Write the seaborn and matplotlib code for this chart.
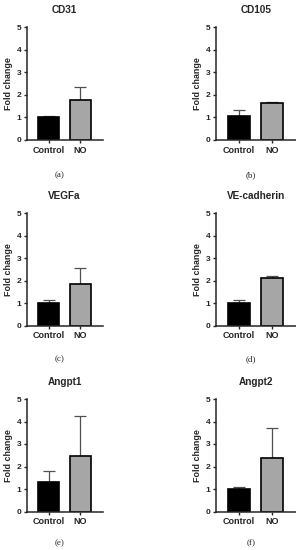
import matplotlib
matplotlib.use('Agg')
import matplotlib.pyplot as plt
import pandas as pd
import seaborn as sns

# Values (mean and upper SD)
genes = ['CD31', 'CD105', 'VEGFa', 'VE-cadherin', 'Angpt1', 'Angpt2']
panel_labels = ['(a)', '(b)', '(c)', '(d)', '(e)', '(f)']
groups = ['Control', 'NO']
control_mean = [1.00, 1.06, 1.01, 1.00, 1.29, 1.00]
control_sd = [0.07, 0.28, 0.14, 0.15, 0.53, 0.07]
no_mean = [1.78, 1.62, 1.85, 2.13, 2.45, 2.40]
no_sd = [0.59, 0.08, 0.72, 0.08, 1.78, 1.30]
y_ticks = [0, 1, 2, 3, 4, 5]

sns.set_style('ticks')
plt.rcParams['font.family'] = ['Liberation Sans', 'DejaVu Sans']

W, H = 296, 550
fig = plt.figure(figsize=(W / 100, H / 100), dpi=100)

# axes boxes in pixels: left, right, top(y=5), bottom(y=0)
cols = [(26.7, 102.5), (216, 295.5)]
rows = [(27.3, 140), (213.3, 325.7), (399, 511.5)]
label_y = [175, 359, 543]

palette = {'Control': '#000000', 'NO': '#a6a6a6'}

for i, gene in enumerate(genes):
    r, c = divmod(i, 2)
    x0, x1 = cols[c]
    yt, yb = rows[r]
    ax = fig.add_axes([x0 / W, 1 - yb / H, (x1 - x0) / W, (yb - yt) / H])

    df = pd.DataFrame({'group': groups,
                       'value': [control_mean[i], no_mean[i]],
                       'sd': [control_sd[i], no_sd[i]]})

    # error bars first so the bar covers the lower half
    ax.errorbar([0, 1], df['value'], yerr=[[0, 0], df['sd']], fmt='none',
                ecolor='#505050', elinewidth=0.9, capsize=4, capthick=0.9,
                zorder=1)
    sns.barplot(data=df, x='group', y='value', hue='group', palette=palette,
                width=0.66, edgecolor='black', linewidth=1.2, ax=ax,
                legend=False, zorder=2)

    ax.set_xlim(-0.69, 1.7)
    ax.set_ylim(0, 5)
    ax.set_yticks(y_ticks)
    ax.set_xlabel('')
    ax.set_ylabel('Fold change', fontsize=6.4, fontweight='bold')
    ax.yaxis.set_label_coords(-14 / (x1 - x0), 0.5)
    ax.set_facecolor('none')
    sns.despine(ax=ax)
    for s in ['left', 'bottom']:
        ax.spines[s].set_linewidth(1.1)
    ax.tick_params(axis='both', length=2.5, width=1.0, pad=1.5,
                   labelsize=6)
    for t in ax.get_xticklabels() + ax.get_yticklabels():
        t.set_fontweight('bold')
    ax.xaxis.set_tick_params(labelsize=6.5)

    ax.text(0.5, 1 + 17 / (yb - yt), gene, transform=ax.transAxes,
            ha='center', va='center', fontsize=7.2, fontweight='bold')

    fig.text((60 if c == 0 else 251) / W, 1 - label_y[r] / H,
             panel_labels[i], ha='center', va='center', fontsize=6.5,
             family='Liberation Serif')

fig.savefig('out.png', dpi=100, facecolor='white')
